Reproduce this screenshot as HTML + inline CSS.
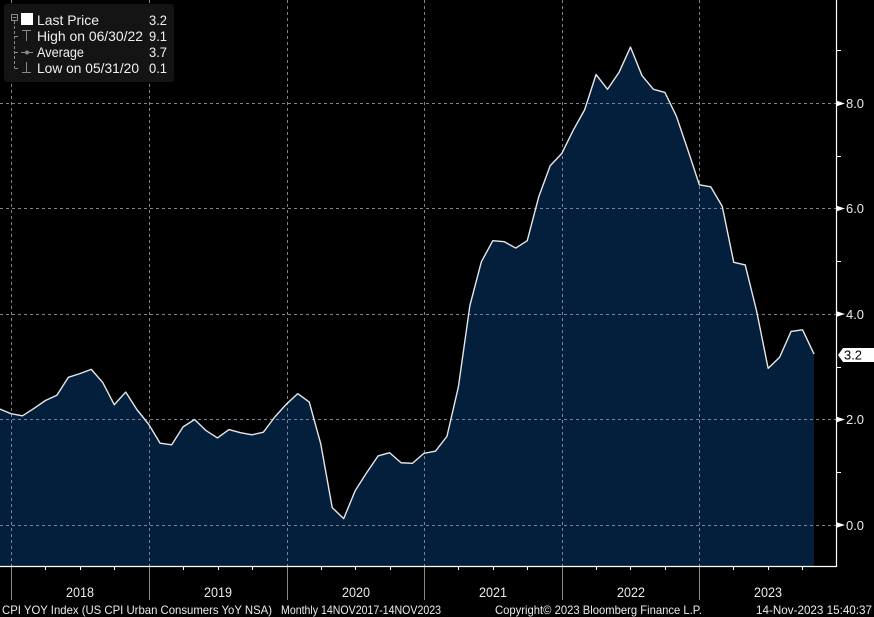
<!DOCTYPE html>
<html><head><meta charset="utf-8"><style>
html,body{margin:0;padding:0;background:#000;}
svg{display:block;font-family:"Liberation Sans",sans-serif;}
</style></head><body>
<svg width="874" height="617" viewBox="0 0 874 617" xmlns="http://www.w3.org/2000/svg">
<rect x="0" y="0" width="874" height="617" fill="#000"/>
<defs><clipPath id="pc"><rect x="0" y="0" width="836" height="566"/></clipPath></defs>
<g clip-path="url(#pc)">
<polygon fill="#031f3b" points="-0.47,566 -0.47,408.95 11.00,413.70 22.47,415.81 33.94,408.42 45.42,400.51 56.89,395.23 68.36,377.30 79.83,373.61 91.30,369.39 102.78,382.57 114.25,404.73 125.72,392.07 137.19,410.00 148.66,424.25 160.14,443.24 171.61,444.82 183.08,426.88 194.55,419.50 206.02,430.58 217.50,437.96 228.97,429.52 240.44,432.69 251.91,434.80 263.38,432.16 274.86,416.86 286.33,404.20 297.80,393.65 309.27,402.09 320.74,443.76 332.22,507.59 343.69,518.67 355.16,490.71 366.63,472.78 378.10,455.90 389.58,452.73 401.05,462.75 412.52,463.28 423.99,453.26 435.46,451.15 446.94,436.38 458.41,386.79 469.88,305.56 481.35,261.78 492.82,240.68 504.30,241.73 515.77,248.06 527.24,240.68 538.71,196.89 550.18,165.77 561.66,153.64 573.13,130.43 584.60,109.86 596.07,74.51 607.54,89.28 619.02,72.40 630.49,47.08 641.96,75.57 653.43,89.28 664.90,92.45 676.38,116.19 687.85,149.95 699.32,184.76 710.79,186.87 722.26,206.39 733.74,262.30 745.21,264.94 756.68,311.36 768.15,368.33 779.62,357.25 791.10,331.41 802.57,329.82 814.04,354.09 814.04,566"/>
<g stroke="#7a858f" stroke-width="1" stroke-dasharray="3,3" fill="none">
<line x1="0" y1="103.5" x2="836" y2="103.5"/>
<line x1="0" y1="208.5" x2="836" y2="208.5"/>
<line x1="0" y1="314.5" x2="836" y2="314.5"/>
<line x1="0" y1="419.5" x2="836" y2="419.5"/>
<line x1="0" y1="525.5" x2="836" y2="525.5"/>
<line x1="11.5" y1="0" x2="11.5" y2="566"/>
<line x1="149.5" y1="0" x2="149.5" y2="566"/>
<line x1="287.5" y1="0" x2="287.5" y2="566"/>
<line x1="424.5" y1="0" x2="424.5" y2="566"/>
<line x1="562.5" y1="0" x2="562.5" y2="566"/>
<line x1="699.5" y1="0" x2="699.5" y2="566"/>
</g>
<polyline fill="none" stroke="#e6e6e6" stroke-width="1.4" stroke-linejoin="round" points="-0.47,408.95 11.00,413.70 22.47,415.81 33.94,408.42 45.42,400.51 56.89,395.23 68.36,377.30 79.83,373.61 91.30,369.39 102.78,382.57 114.25,404.73 125.72,392.07 137.19,410.00 148.66,424.25 160.14,443.24 171.61,444.82 183.08,426.88 194.55,419.50 206.02,430.58 217.50,437.96 228.97,429.52 240.44,432.69 251.91,434.80 263.38,432.16 274.86,416.86 286.33,404.20 297.80,393.65 309.27,402.09 320.74,443.76 332.22,507.59 343.69,518.67 355.16,490.71 366.63,472.78 378.10,455.90 389.58,452.73 401.05,462.75 412.52,463.28 423.99,453.26 435.46,451.15 446.94,436.38 458.41,386.79 469.88,305.56 481.35,261.78 492.82,240.68 504.30,241.73 515.77,248.06 527.24,240.68 538.71,196.89 550.18,165.77 561.66,153.64 573.13,130.43 584.60,109.86 596.07,74.51 607.54,89.28 619.02,72.40 630.49,47.08 641.96,75.57 653.43,89.28 664.90,92.45 676.38,116.19 687.85,149.95 699.32,184.76 710.79,186.87 722.26,206.39 733.74,262.30 745.21,264.94 756.68,311.36 768.15,368.33 779.62,357.25 791.10,331.41 802.57,329.82 814.04,354.09"/>
</g>
<!-- axes -->
<line x1="0" y1="566.5" x2="837" y2="566.5" stroke="#ffffff" stroke-width="1.2"/>
<line x1="836.5" y1="0" x2="836.5" y2="567" stroke="#ffffff" stroke-width="1.2"/>
<!-- y ticks -->
<g fill="#ffffff">
<polygon points="836,100.5 845,103.5 836,106.5"/>
<polygon points="836,205.5 845,208.5 836,211.5"/>
<polygon points="836,311 845,314 836,317"/>
<polygon points="836,416.5 845,419.5 836,422.5"/>
<polygon points="836,522 845,525 836,528"/>
</g>
<g stroke="#ffffff" stroke-width="1">
<line x1="836" y1="50.5" x2="841" y2="50.5"/>
<line x1="836" y1="156.5" x2="841" y2="156.5"/>
<line x1="836" y1="261.5" x2="841" y2="261.5"/>
<line x1="836" y1="367.5" x2="841" y2="367.5"/>
<line x1="836" y1="472.5" x2="841" y2="472.5"/>
</g>
<g fill="#e8ecf0" font-size="13">
<text x="846" y="108" textLength="18" lengthAdjust="spacingAndGlyphs">8.0</text>
<text x="846" y="213" textLength="18" lengthAdjust="spacingAndGlyphs">6.0</text>
<text x="846" y="319" textLength="18" lengthAdjust="spacingAndGlyphs">4.0</text>
<text x="846" y="424" textLength="18" lengthAdjust="spacingAndGlyphs">2.0</text>
<text x="846" y="530" textLength="18" lengthAdjust="spacingAndGlyphs">0.0</text>
</g>
<!-- last price label -->
<polygon fill="#ffffff" points="838,355 843,348 874,348 874,362 843,362"/>
<text x="844" y="359.5" font-size="13" fill="#000" textLength="18" lengthAdjust="spacingAndGlyphs">3.2</text>
<!-- x ticks -->
<g stroke="#ffffff" stroke-width="1">
<line x1="45.5" y1="566" x2="45.5" y2="570"/><line x1="80.5" y1="566" x2="80.5" y2="570"/><line x1="114.5" y1="566" x2="114.5" y2="570"/>
<line x1="183.5" y1="566" x2="183.5" y2="570"/><line x1="218.5" y1="566" x2="218.5" y2="570"/><line x1="252.5" y1="566" x2="252.5" y2="570"/>
<line x1="321.5" y1="566" x2="321.5" y2="570"/><line x1="355.5" y1="566" x2="355.5" y2="570"/><line x1="390.5" y1="566" x2="390.5" y2="570"/>
<line x1="458.5" y1="566" x2="458.5" y2="570"/><line x1="493.5" y1="566" x2="493.5" y2="570"/><line x1="527.5" y1="566" x2="527.5" y2="570"/>
<line x1="596.5" y1="566" x2="596.5" y2="570"/><line x1="630.5" y1="566" x2="630.5" y2="570"/><line x1="665.5" y1="566" x2="665.5" y2="570"/>
<line x1="733.5" y1="566" x2="733.5" y2="570"/><line x1="768.5" y1="566" x2="768.5" y2="570"/><line x1="802.5" y1="566" x2="802.5" y2="570"/>
</g>
<g stroke="#8a8a8a" stroke-width="1">
<line x1="11.5" y1="567" x2="11.5" y2="600"/>
<line x1="149.5" y1="567" x2="149.5" y2="600"/>
<line x1="287.5" y1="567" x2="287.5" y2="600"/>
<line x1="424.5" y1="567" x2="424.5" y2="600"/>
<line x1="562.5" y1="567" x2="562.5" y2="600"/>
<line x1="699.5" y1="567" x2="699.5" y2="600"/>
</g>
<g fill="#e8ecf0" font-size="14" text-anchor="middle">
<text x="80" y="597" textLength="28" lengthAdjust="spacingAndGlyphs">2018</text>
<text x="218" y="597" textLength="28" lengthAdjust="spacingAndGlyphs">2019</text>
<text x="356" y="597" textLength="28" lengthAdjust="spacingAndGlyphs">2020</text>
<text x="493" y="597" textLength="28" lengthAdjust="spacingAndGlyphs">2021</text>
<text x="631" y="597" textLength="28" lengthAdjust="spacingAndGlyphs">2022</text>
<text x="768" y="597" textLength="28" lengthAdjust="spacingAndGlyphs">2023</text>
</g>
<!-- footer -->
<g fill="#e8ecf0" font-size="12">
<text x="2" y="614" textLength="270" lengthAdjust="spacingAndGlyphs">CPI YOY Index (US CPI Urban Consumers YoY NSA)</text>
<text x="281" y="614" textLength="160" lengthAdjust="spacingAndGlyphs">Monthly 14NOV2017-14NOV2023</text>
<text x="495" y="614" textLength="207" lengthAdjust="spacingAndGlyphs">Copyright© 2023 Bloomberg Finance L.P.</text>
<text x="756" y="614" textLength="116" lengthAdjust="spacingAndGlyphs">14-Nov-2023 15:40:37</text>
</g>
<!-- legend -->
<rect x="4" y="4" width="170" height="78" rx="3" fill="#141414"/>
<g stroke="#8a8a8a" stroke-width="1" fill="none">
<rect x="11.5" y="14.5" width="6" height="6"/>
<line x1="12.5" y1="17.5" x2="16.5" y2="17.5"/>
<line x1="14.5" y1="21" x2="14.5" y2="68" stroke-dasharray="3,2"/>
<line x1="14.5" y1="36.5" x2="18" y2="36.5"/>
<line x1="14.5" y1="52.5" x2="18" y2="52.5"/>
<line x1="14.5" y1="68.5" x2="18" y2="68.5"/>
<line x1="22" y1="30.5" x2="31" y2="30.5"/>
<line x1="26.5" y1="30.5" x2="26.5" y2="41"/>
<line x1="21" y1="52.5" x2="33" y2="52.5"/>
<line x1="26.5" y1="62" x2="26.5" y2="72.5"/>
<line x1="22" y1="72.5" x2="31" y2="72.5"/>
</g>
<circle cx="27" cy="52.5" r="2" fill="#8a8a8a"/>
<rect x="21" y="13" width="12" height="12" fill="#ffffff"/>
<g fill="#eef0f2" font-size="14">
<text x="37" y="25" textLength="62" lengthAdjust="spacingAndGlyphs">Last Price</text>
<text x="37" y="41" textLength="106" lengthAdjust="spacingAndGlyphs">High on 06/30/22</text>
<text x="37" y="57" textLength="47" lengthAdjust="spacingAndGlyphs">Average</text>
<text x="37" y="73" textLength="102" lengthAdjust="spacingAndGlyphs">Low on 05/31/20</text>
<text x="149" y="25" textLength="18" lengthAdjust="spacingAndGlyphs">3.2</text>
<text x="149" y="41" textLength="18" lengthAdjust="spacingAndGlyphs">9.1</text>
<text x="149" y="57" textLength="18" lengthAdjust="spacingAndGlyphs">3.7</text>
<text x="149" y="73" textLength="18" lengthAdjust="spacingAndGlyphs">0.1</text>
</g>
</svg>
</body></html>
